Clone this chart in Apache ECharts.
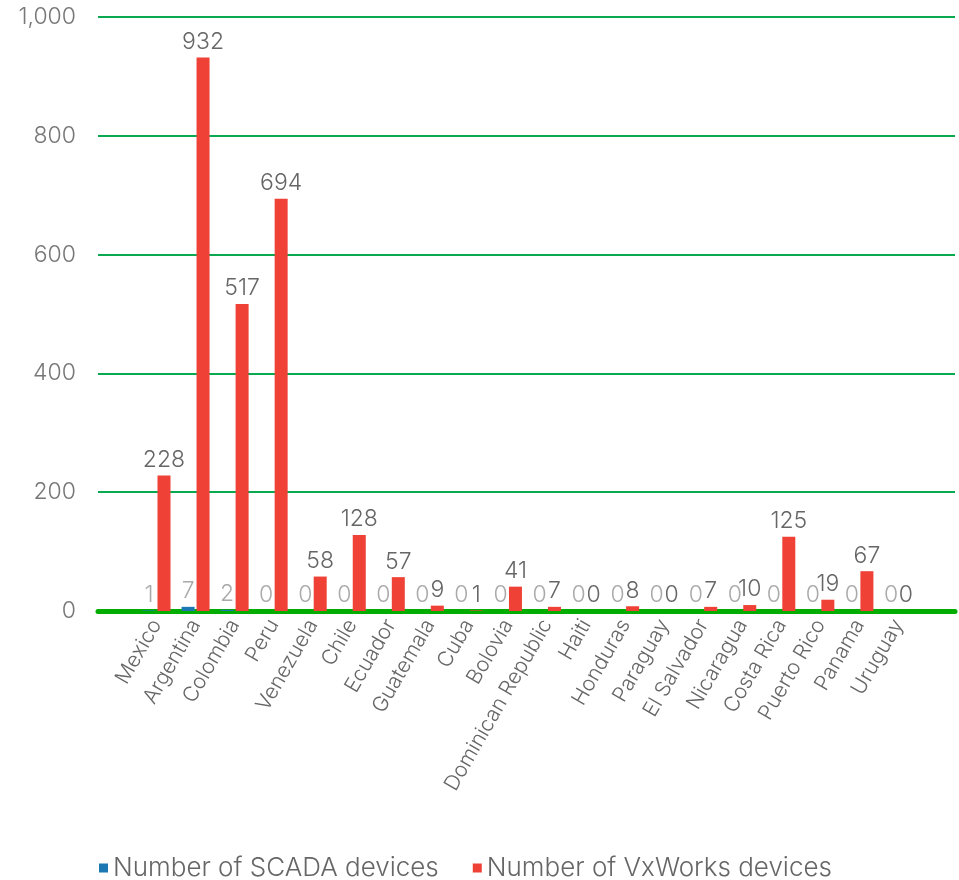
<!DOCTYPE html>
<html>
<head>
<meta charset="utf-8">
<script src="https://cdn.jsdelivr.net/npm/echarts@6/dist/echarts.min.js"></script>
<style>
  html, body { margin: 0; padding: 0; background: #fff; }
  #main { width: 959px; height: 880px; }
</style>
</head>
<body>
<div id="main"></div>
<script>
// countries on the x axis
var countries = ['Mexico', 'Argentina', 'Colombia', 'Peru', 'Venezuela', 'Chile', 'Ecuador',
  'Guatemala', 'Cuba', 'Bolovia', 'Dominican Republic', 'Haiti', 'Honduras', 'Paraguay',
  'El Salvador', 'Nicaragua', 'Costa Rica', 'Puerto Rico', 'Panama', 'Uruguay'];

var scadaDevices = [1, 7, 2, 0, 0, 0, 0, 0, 0, 0, 0, 0, 0, 0, 0, 0, 0, 0, 0, 0];
var vxworksDevices = [228, 932, 517, 694, 58, 128, 57, 9, 1, 41, 7, 0, 8, 0, 7, 10, 125, 19, 67, 0];

var yTicks = [0, 200, 400, 600, 800, 1000];

var FONT = 'Inter';

var myChart = echarts.init(document.getElementById('main'));

var option = {
  animation: false,
  textStyle: { fontFamily: FONT },
  legend: {
    left: 94,
    top: 850,
    icon: 'rect',
    itemWidth: 9,
    itemHeight: 9,
    itemGap: 34,
    textStyle: { fontSize: 26, color: '#666', fontFamily: FONT, fontWeight: 300 },
    data: ['Number of SCADA devices', 'Number of VxWorks devices']
  },
  grid: [
    // gridlines, value labels and the long green base line
    { left: 98, right: 4, top: 17, bottom: 269 },
    // the bars themselves
    { left: 137, width: 781, top: 17, bottom: 269 }
  ],
  xAxis: [{
    gridIndex: 0,
    type: 'category',
    data: [''],
    axisTick: { show: false },
    axisLabel: { show: false },
    axisLine: { lineStyle: { color: '#00ad00', width: 5 } }
  }, {
    gridIndex: 1,
    type: 'category',
    data: countries,
    axisLine: { show: false },
    axisTick: { show: false },
    axisLabel: {
      interval: 0,
      rotate: 60,
      margin: 10,
      fontSize: 21,
      color: '#666',
      fontFamily: FONT,
      fontWeight: 300
    }
  }],
  yAxis: [{
    gridIndex: 0,
    type: 'value',
    min: yTicks[0],
    max: yTicks[yTicks.length - 1],
    interval: 200,
    axisLine: { show: false },
    axisTick: { show: false },
    axisLabel: {
      margin: 22,
      fontSize: 23,
      color: '#777',
      fontFamily: FONT,
      fontWeight: 300,
      formatter: function (v) { return v.toLocaleString('en-US'); }
    },
    splitLine: { lineStyle: { color: '#0aa84f', width: 2 } }
  }, {
    gridIndex: 1,
    type: 'value',
    min: yTicks[0],
    max: yTicks[yTicks.length - 1],
    show: false,
    splitLine: { show: false }
  }],
  series: [{
    name: 'Number of SCADA devices',
    type: 'bar',
    xAxisIndex: 1,
    yAxisIndex: 1,
    barWidth: 13,
    barGap: '15%',
    itemStyle: { color: '#1b78b2' },
    label: {
      show: true,
      position: 'top',
      distance: 4,
      fontSize: 23,
      color: '#aaa',
      fontFamily: FONT,
      fontWeight: 300
    },
    data: scadaDevices
  }, {
    name: 'Number of VxWorks devices',
    type: 'bar',
    xAxisIndex: 1,
    yAxisIndex: 1,
    barWidth: 13,
    itemStyle: { color: '#ef4136' },
    label: {
      show: true,
      position: 'top',
      distance: 4,
      fontSize: 23,
      color: '#666',
      fontFamily: FONT,
      fontWeight: 300
    },
    data: vxworksDevices
  }]
};

myChart.setOption(option);
</script>
</body>
</html>
